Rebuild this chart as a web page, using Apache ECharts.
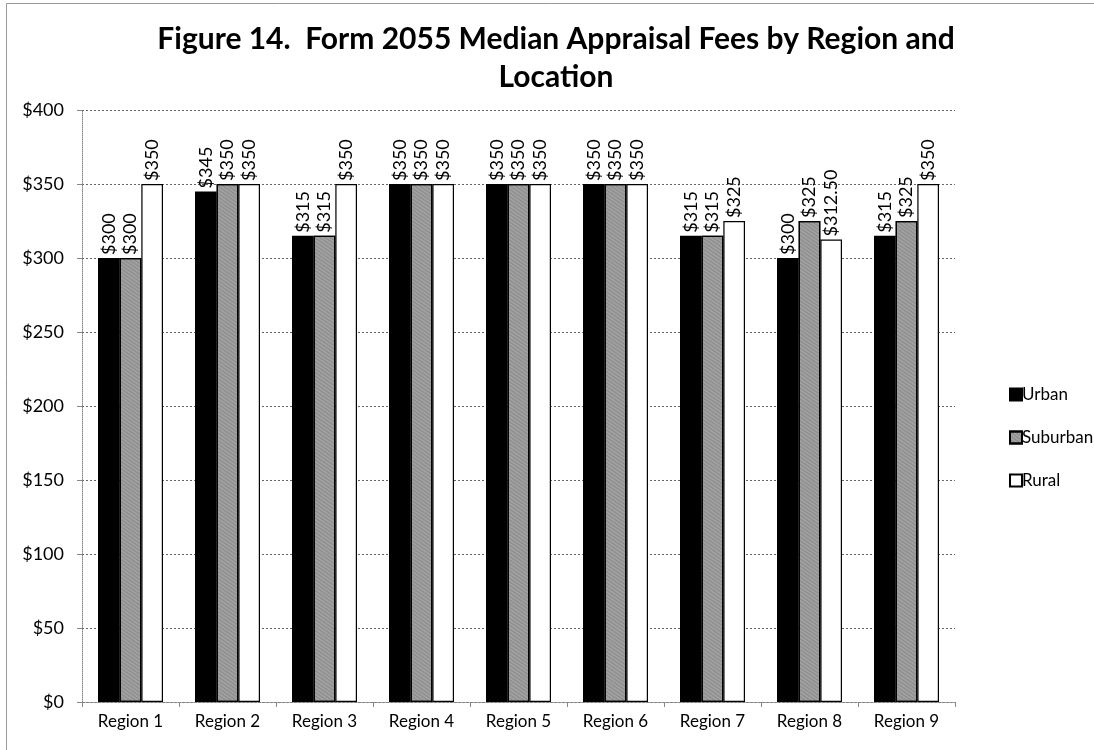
<!DOCTYPE html>
<html><head><meta charset="utf-8">
<script src="https://cdn.jsdelivr.net/npm/echarts@6/dist/echarts.min.js"></script>
<style>html,body{margin:0;padding:0;background:#fff;}#c{width:1094px;height:750px;}</style>
</head><body><div id="c"></div>
<script>
const categories = ['Region 1','Region 2','Region 3','Region 4','Region 5','Region 6','Region 7','Region 8','Region 9'];
const urban    = [300, 345, 315, 350, 350, 350, 315, 300, 315];
const suburban = [300, 350, 315, 350, 350, 350, 315, 325, 325];
const rural    = [350, 350, 350, 350, 350, 350, 325, 312.5, 350];
const yTicks = [0, 50, 100, 150, 200, 250, 300, 350, 400];

const FONT = 'Lato';
function fmt(v){ return '$' + (Number.isInteger(v) ? v : v.toFixed(2)); }

const chart = echarts.init(document.getElementById('c'));
const labelCfg = {
  show: true, position: 'top', rotate: 90, align: 'left', verticalAlign: 'middle',
  distance: 3, fontFamily: FONT, fontSize: 18, color: '#000',
  formatter: p => fmt(p.value)
};
function bar(name, data, color, decal){
  return {
    name, type: 'bar', data, barGap: '0%', barCategoryGap: '33%',
    itemStyle: { color, borderColor: '#000', borderWidth: 1.2, decal },
    label: labelCfg
  };
}
chart.setOption({
  animation: false,
  backgroundColor: '#fff',
  aria: { enabled: false },
  title: {
    text: 'Figure 14.  Form 2055 Median Appraisal Fees by Region and\nLocation',
    left: 551, top: 15, textAlign: 'center',
    textStyle: { fontFamily: FONT, fontWeight: 'bold', fontSize: 30, lineHeight: 38, color: '#000' }
  },
  legend: {
    orient: 'vertical', left: 1004, top: 381, itemGap: 26, itemWidth: 12, itemHeight: 12,
    icon: 'rect',
    textStyle: { fontFamily: FONT, fontSize: 17, color: '#000', padding: [0,0,0,-5] },
    data: ['Urban','Suburban','Rural']
  },
  grid: { left: 82, right: 139, top: 110, bottom: 48 },
  xAxis: {
    type: 'category', data: categories,
    axisLine: { lineStyle: { color: '#888', type: 'dotted' } },
    axisTick: { show: true, length: 5, lineStyle: { color: '#888' } },
    axisLabel: { fontFamily: FONT, fontSize: 17, color: '#000', margin: 11 }
  },
  yAxis: {
    type: 'value', min: yTicks[0], max: yTicks[yTicks.length-1], interval: 50,
    axisLine: { show: true, lineStyle: { color: '#888', type: 'dotted' } },
    axisTick: { show: true, length: 5, lineStyle: { color: '#888' } },
    splitLine: { lineStyle: { color: '#666', type: [2,2] } },
    axisLabel: { fontFamily: FONT, fontSize: 18, color: '#000', margin: 18, formatter: v => '$' + v }
  },
  series: [
    bar('Urban', urban, '#000'),
    bar('Suburban', suburban, '#a0a0a0', { symbol: 'rect', symbolSize: 0.7, dashArrayX: [1,0], dashArrayY: [1,2], color: 'rgba(50,50,50,0.55)', rotation: 0.6 }),
    bar('Rural', rural, '#fff')
  ],
  graphic: [{
    type: 'rect', shape: { x: 6.5, y: 3.5, width: 1200, height: 800 },
    style: { fill: 'none', stroke: '#999', lineWidth: 1 }, silent: true
  }]
});
</script></body></html>
